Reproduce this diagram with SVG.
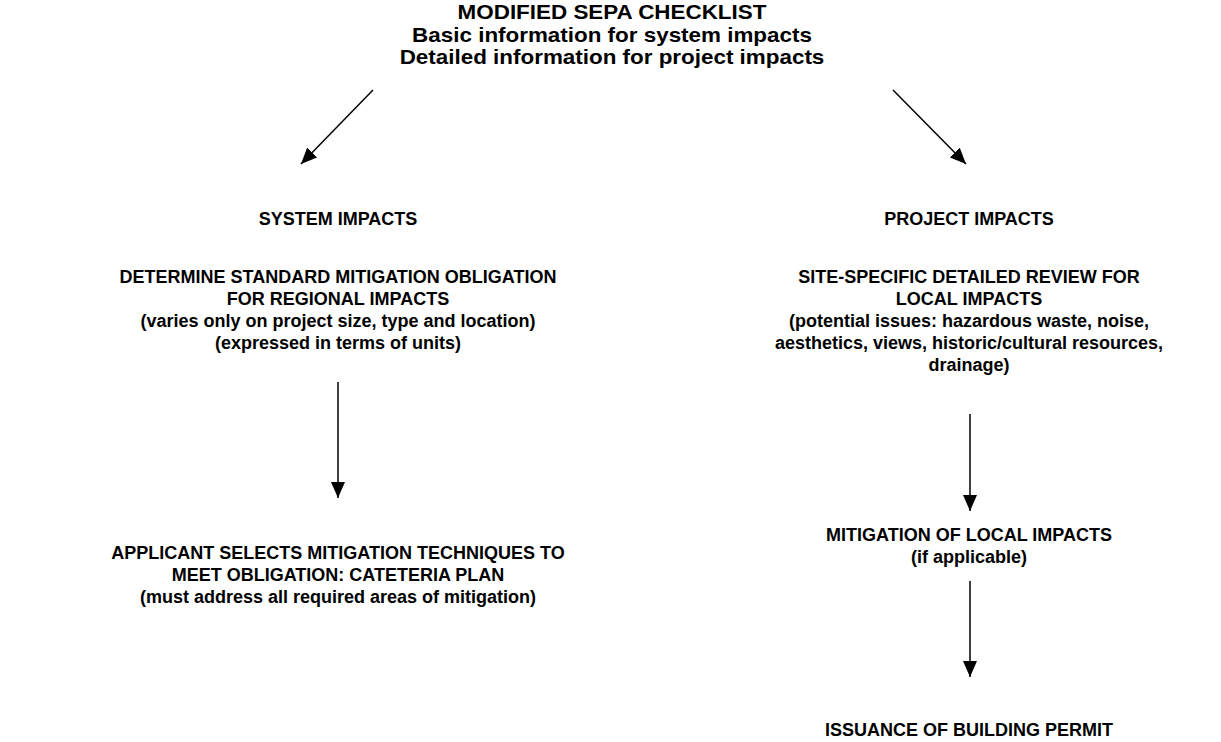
<svg xmlns="http://www.w3.org/2000/svg" width="1221" height="742" viewBox="0 0 1221 742">
<style>
text{font-family:"Liberation Sans",Arial,sans-serif;font-weight:bold;font-size:18px;fill:#000;text-anchor:middle}
.t{font-size:19.5px}
.c{stroke:#000;stroke-width:1.5;fill:none}
</style>
<defs>
<marker id="ah" viewBox="0 0 10 10" refX="10" refY="5" markerWidth="16" markerHeight="14" markerUnits="userSpaceOnUse" orient="auto" preserveAspectRatio="none">
<path d="M0,0 L10,5 L0,10 z" fill="#000"/>
</marker>
</defs>
<rect width="1221" height="742" fill="#fff"/>
<g id="connectors">
<line class="c" x1="373" y1="90" x2="301" y2="164" marker-end="url(#ah)"/>
<line class="c" x1="893" y1="90" x2="966" y2="164" marker-end="url(#ah)"/>
<line class="c" x1="338" y1="382" x2="338" y2="498" marker-end="url(#ah)"/>
<line class="c" x1="970" y1="414" x2="970" y2="511" marker-end="url(#ah)"/>
<line class="c" x1="970" y1="581" x2="970" y2="677" marker-end="url(#ah)"/>
</g>
<g id="checklist" transform="translate(612 0) scale(1.15 1)">
<text class="t" x="0" y="19.5">MODIFIED SEPA CHECKLIST</text>
<text class="t" x="0" y="42">Basic information for system impacts</text>
<text class="t" x="0" y="64.5">Detailed information for project impacts</text>
</g>
<g id="system-impacts"><text x="338" y="225">SYSTEM IMPACTS</text></g>
<g id="project-impacts"><text x="969" y="225">PROJECT IMPACTS</text></g>
<g id="standard-mitigation">
<text x="338" y="283">DETERMINE STANDARD MITIGATION OBLIGATION</text>
<text x="338" y="305">FOR REGIONAL IMPACTS</text>
<text x="338" y="327">(varies only on project size, type and location)</text>
<text x="338" y="349">(expressed in terms of units)</text>
</g>
<g id="site-specific-review">
<text x="969" y="283">SITE-SPECIFIC DETAILED REVIEW FOR</text>
<text x="969" y="305">LOCAL IMPACTS</text>
<text x="969" y="327">(potential issues: hazardous waste, noise,</text>
<text x="969" y="349">aesthetics, views, historic/cultural resources,</text>
<text x="969" y="371">drainage)</text>
</g>
<g id="cateteria-plan">
<text x="338" y="559">APPLICANT SELECTS MITIGATION TECHNIQUES TO</text>
<text x="338" y="581">MEET OBLIGATION: CATETERIA PLAN</text>
<text x="338" y="603">(must address all required areas of mitigation)</text>
</g>
<g id="local-mitigation">
<text x="969" y="541">MITIGATION OF LOCAL IMPACTS</text>
<text x="969" y="563">(if applicable)</text>
</g>
<g id="building-permit">
<text x="969" y="736">ISSUANCE OF BUILDING PERMIT</text>
</g>
</svg>
